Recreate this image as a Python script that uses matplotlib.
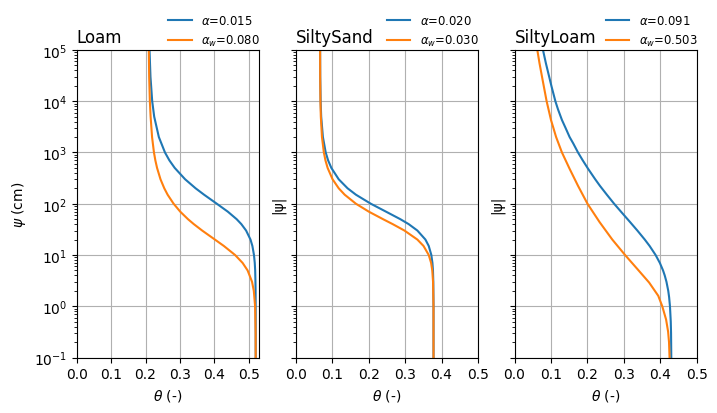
import numpy as np
import matplotlib
matplotlib.use("Agg")
import matplotlib.pyplot as plt

### data: suction head (cm) and water content ###
soils = ["Loam", "SiltySand", "SiltyLoam"]
alpha = ["0.015", "0.020", "0.091"]
alpha_w = ["0.080", "0.030", "0.503"]

psi_loam = [0.1, 0.3, 1, 2, 3, 5, 7, 10, 15, 20, 30, 40, 50, 70, 100, 150,
            200, 300, 500, 700, 1000, 2000, 5000, 1e4, 3e4, 1e5]
theta_loam = [0.520, 0.520, 0.5199, 0.5197, 0.5193, 0.5185, 0.5173, 0.515,
              0.5104, 0.5049, 0.4921, 0.4783, 0.4646, 0.439, 0.407, 0.370,
              0.3454, 0.3149, 0.2847, 0.2693, 0.2564, 0.2386, 0.2251, 0.2193,
              0.2143, 0.2115]
psi_w_loam = psi_loam
theta_w_loam = [0.520, 0.5198, 0.5183, 0.5145, 0.5094, 0.4965, 0.482, 0.4601,
                0.4275, 0.4014, 0.3644, 0.3402, 0.3232, 0.3008, 0.2815, 0.2641,
                0.2544, 0.2434, 0.2334, 0.2285, 0.2244, 0.2189, 0.2147, 0.2125,
                0.2105, 0.2095]

psi_sand = [0.1, 1, 3, 5, 7, 10, 15, 20, 30, 40, 50, 70, 100, 150, 200, 300,
            500, 700, 1000, 2000, 5000, 1e4, 3e4, 1e5]
theta_sand = [0.378, 0.378, 0.3774, 0.3765, 0.375, 0.372, 0.3649, 0.3558,
              0.3337, 0.3099, 0.2869, 0.2478, 0.2061, 0.1653, 0.1424, 0.1181,
              0.0979, 0.0891, 0.0825, 0.0748, 0.0701, 0.0686, 0.0675, 0.0672]
psi_w_sand = psi_sand
theta_w_sand = [0.378, 0.3779, 0.3767, 0.3746, 0.3714, 0.3649, 0.3506, 0.3337,
                0.2982, 0.2661, 0.2395, 0.2007, 0.1653, 0.1345, 0.1181, 0.1013,
                0.0877, 0.0818, 0.0774, 0.0722, 0.0691, 0.068, 0.0673, 0.0671]

psi_silt = [0.1, 0.3, 0.5, 1, 1.5, 2, 3, 4, 5, 7, 10, 15, 20, 30, 44, 70, 100,
            150, 224, 300, 480, 700, 1000, 1500, 2000, 3000, 4300, 7000, 1e4,
            2e4, 3e4, 5.5e4, 1e5]
theta_silt = [0.4297, 0.4291, 0.4283, 0.4261, 0.4238, 0.4214, 0.4165, 0.4117,
              0.4071, 0.3984, 0.3867, 0.3703, 0.357, 0.3367, 0.3166, 0.2918,
              0.273, 0.2531, 0.234, 0.2212, 0.2017, 0.1871, 0.174, 0.161,
              0.151, 0.140, 0.130, 0.119, 0.112, 0.101, 0.095, 0.086, 0.078]
psi_w_silt = [0.1, 0.2, 0.32, 0.55, 1, 1.6, 2.9, 5.2, 10, 20, 44, 100, 224,
              480, 1000, 2000, 4300, 1e4, 2.6e4, 5.5e4, 1e5]
theta_w_silt = [0.425, 0.4235, 0.421, 0.4155, 0.405, 0.394, 0.369, 0.338,
                0.303, 0.268, 0.233, 0.200, 0.174, 0.151, 0.130, 0.114, 0.100,
                0.088, 0.077, 0.0685, 0.0625]

psi = [psi_loam, psi_sand, psi_silt]
theta = [theta_loam, theta_sand, theta_silt]
psi_w = [psi_w_loam, psi_w_sand, psi_w_silt]
theta_w = [theta_w_loam, theta_w_sand, theta_w_silt]
xmax = [0.53, 0.5, 0.5]

### plot ###
fig, axs = plt.subplots(1, 3, figsize=(7.17, 4.14), dpi=100, sharey=True)
fig.subplots_adjust(left=0.107, right=0.972, bottom=0.134, top=0.877, wspace=0.2)

for i, ax in enumerate(axs):
    ax.plot(theta[i], psi[i], label=r'$\alpha$=' + alpha[i])
    ax.plot(theta_w[i], psi_w[i], label=r'$\alpha_w$=' + alpha_w[i])
    ax.set_yscale('log')
    ax.set_ylim(0.1, 1e5)
    ax.set_xlim(0, xmax[i])
    ax.set_xticks(np.arange(0, 0.51, 0.1))
    ax.grid(True)
    ax.set_title(soils[i], loc='left')
    ax.set_xlabel(r'$\theta$ (-)')
    if i == 0:
        ax.set_ylabel(r'$\psi$ (cm)')
    else:
        ax.set_ylabel('|ψ|')
    ax.legend(loc='lower right', bbox_to_anchor=(1.06, 0.973), frameon=False,
              fontsize='small')

plt.savefig('out.png')
